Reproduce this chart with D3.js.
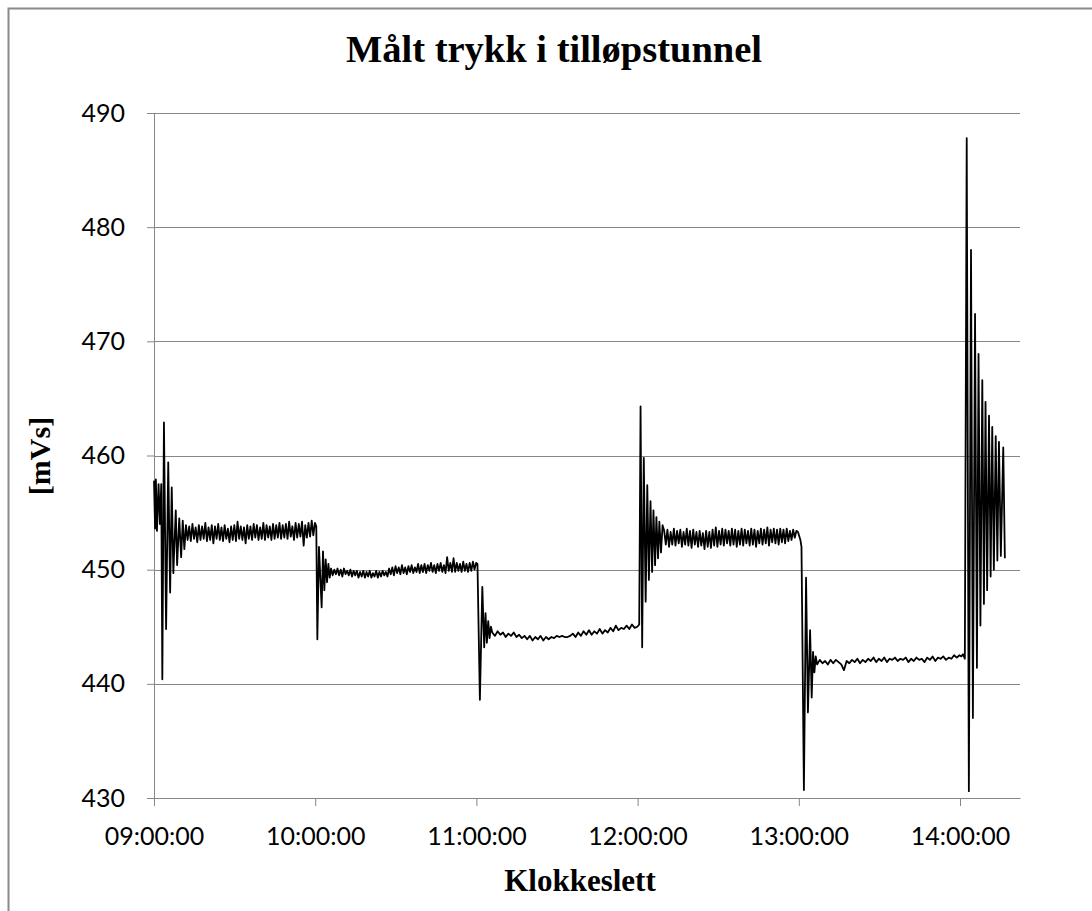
<!DOCTYPE html>
<html>
<head>
<meta charset="utf-8">
<script src="https://cdn.jsdelivr.net/npm/d3@7"></script>
<style>
  body { margin: 0; background: #fff; }
  .tick text { font-family: Lato, "Open Sans", sans-serif; font-size: 25px; fill: #000; }
  .label { font-family: "Liberation Serif", serif; font-weight: bold; fill: #000; }
</style>
</head>
<body>
<div id="chart"></div>
<script>
var xTicks = ["09:00:00", "10:00:00", "11:00:00", "12:00:00", "13:00:00", "14:00:00"];
var yTicks = [430, 440, 450, 460, 470, 480, 490];

// transients after each gate change: minutes after 09:00 and pressure [mVs]
var swingMin = [
  0.0, 0.4, 0.7, 1.1, 1.7, 2.2, 2.7, 3.1, 3.7, 4.5, 5.3, 6.0, 6.6, 7.2, 8.1, 8.6, 9.4, 10.1, 10.7, 11.3,
  60.4, 60.8, 61.4, 62.4, 62.9, 63.4, 63.9, 64.4, 64.9, 65.4,
  120.4, 121.3, 122.2, 122.9, 123.4, 123.9, 124.4, 124.9, 125.4,
  180.6, 181.1, 181.7, 182.3, 183.0, 183.6, 184.2, 184.8, 185.4, 185.9, 186.5, 187.0, 187.6, 188.1, 188.7, 189.3,
  239.7, 240.6, 241.0, 241.9, 242.7, 243.4, 244.2, 244.8, 245.3, 245.8, 246.3,
  300.5, 301.1, 301.8, 302.5, 303.3, 304.1, 304.8, 305.6, 306.3, 306.9, 307.6, 308.3, 308.9, 309.5,
  310.1, 310.8, 311.4, 312.0, 312.6, 313.3, 313.9, 314.5, 315.2, 316.1, 316.7
];
var swingVal = [
  457.8, 453.6, 457.9, 453.4, 457.5, 454.0, 457.5, 440.4, 462.9, 444.8, 459.4, 448.0, 457.2, 449.7, 455.2, 450.4, 454.5, 451.1, 454.3, 451.8,
  453.8, 443.9, 452.0, 446.7, 451.6, 448.2, 450.9, 448.9, 450.5, 449.3,
  450.5, 438.6, 448.5, 443.2, 446.2, 443.6, 445.5, 444.0, 445.0,
  445.2, 464.3, 443.2, 459.8, 447.2, 457.4, 449.1, 456.0, 449.8, 455.2, 450.4, 454.6, 451.0, 454.2, 451.5, 453.9,
  453.3, 452.6, 452.0, 430.7, 449.3, 437.5, 444.7, 438.8, 442.8, 441.0, 442.4,
  442.4, 442.6, 442.2, 487.8, 430.6, 478.0, 437.0, 472.4, 441.4, 468.9, 445.1, 466.6, 447.0, 464.7,
  448.2, 463.5, 449.4, 462.5, 450.0, 461.7, 450.8, 461.2, 451.2, 460.7, 451.0
];

// steady periods between the changes, logged at a fixed rate
var steadyStart = [11.9, 65.9, 125.9, 189.9, 246.8];
var steadyStep = [0.6, 0.6, 1.0, 0.6, 1.0];

var steady1 = [
  453.9, 452.6, 453.8, 452.5, 454.0, 452.7, 453.7, 452.4, 453.9, 452.6,
  453.8, 452.7, 454.1, 452.5, 453.7, 452.6, 453.9, 452.3, 453.8, 452.7,
  454.0, 452.6, 453.7, 452.5, 453.9, 452.7, 453.6, 452.4, 453.8, 452.6,
  453.9, 452.5, 454.2, 452.7, 453.8, 452.6, 453.7, 452.3, 453.9, 452.7,
  453.8, 452.6, 454.0, 452.8, 453.9, 452.6, 453.7, 452.7, 454.1, 452.6,
  453.9, 452.8, 453.8, 452.6, 454.0, 452.7, 453.9, 452.8, 454.1, 452.7,
  453.9, 452.8, 454.0, 452.7, 454.2, 452.9, 453.8, 452.6, 454.1, 452.8,
  454.0, 452.9, 454.2, 452.1, 453.9, 452.8, 454.1, 452.9, 454.3, 453.0,
  454.1
];
var steady2 = [
  450.1, 449.5, 450.0, 449.6, 450.1, 449.5, 450.0, 449.4, 450.1, 449.6, 449.9, 449.5, 450.0, 449.4, 449.9, 449.5,
  449.9, 449.3, 449.8, 449.4, 449.9, 449.3, 449.8, 449.4, 449.9, 449.3, 449.7, 449.4, 449.9, 449.3, 449.8, 449.4, 449.9, 449.5, 449.8, 449.4,
  450.1, 449.6, 450.2, 449.5, 450.3, 449.7, 450.2, 449.6, 450.4, 449.7, 450.2, 449.6, 450.3, 449.8, 450.4, 449.7, 450.2, 449.8, 450.5, 449.7,
  450.4, 449.8, 450.5, 449.7, 450.4, 449.9, 450.6, 449.8, 450.4, 449.7, 450.5, 449.9, 450.6, 449.8, 450.4, 449.7, 451.1, 449.9, 450.6, 449.8,
  451.0, 449.8, 450.6, 449.9, 450.5, 449.8, 450.7, 449.9, 450.5, 449.8, 450.6, 449.9, 450.7, 450.0, 450.6
];
var steady3 = [
  444.5, 444.2, 444.6, 444.3, 444.5, 444.1, 444.4, 444.2, 444.5, 444.1,
  444.3, 444.0, 444.2, 443.9, 444.2, 443.8, 444.1, 443.9, 444.2, 443.8,
  444.1, 443.9, 444.1, 444.0, 444.2, 444.1, 444.2, 444.1, 444.1, 444.2,
  444.4, 444.1, 444.5, 444.2, 444.6, 444.3, 444.7, 444.3, 444.6, 444.4,
  444.8, 444.4, 444.7, 444.5, 444.9, 444.6, 445.1, 444.7, 444.9, 444.8,
  445.1, 444.8, 445.2, 444.9, 445.0
];
var steady4 = [
  453.4, 452.2, 453.5, 452.0, 453.3, 452.2, 453.6, 452.1, 453.4, 452.3,
  453.5, 452.0, 453.3, 452.2, 453.6, 452.1, 453.4, 451.9, 453.5, 452.2,
  453.3, 452.0, 453.4, 452.1, 453.2, 451.8, 453.4, 452.0, 453.3, 451.9,
  453.5, 452.1, 453.7, 452.0, 453.4, 452.2, 453.6, 452.1, 453.5, 452.3,
  453.4, 452.1, 453.6, 452.2, 453.5, 452.0, 453.4, 452.2, 453.6, 452.1,
  453.5, 452.3, 453.4, 452.1, 453.6, 452.2, 453.5, 452.0, 453.4, 452.3,
  453.6, 452.2, 453.5, 452.3, 453.7, 452.1, 453.5, 452.4, 453.6, 452.3,
  453.5, 452.2, 453.6, 452.4, 453.5, 452.3, 453.6, 452.5, 453.4, 452.6,
  453.5, 452.8, 453.4
];
var steady5 = [
  441.7, 442.1, 441.8, 442.0, 441.7, 442.1, 441.8, 442.1, 441.9, 441.7,
  441.2, 442.0, 441.8, 442.1, 441.9, 442.2, 441.8, 442.1, 441.9, 442.2,
  442.0, 442.3, 441.9, 442.2, 442.0, 442.3, 441.9, 442.2, 442.1, 442.3,
  442.0, 442.2, 442.1, 442.3, 441.9, 442.2, 442.0, 442.3, 442.1, 442.2,
  441.9, 442.3, 442.1, 442.4, 442.0, 442.3, 442.2, 442.4, 442.1, 442.3,
  442.2, 442.5, 442.3, 442.5
];
var steadyVals = [steady1, steady2, steady3, steady4, steady5];

var W = 1092, H = 911;
var margin = {top: 113, right: 72, bottom: 113, left: 154}
  , width = W - margin.left - margin.right
  , height = H - margin.top - margin.bottom;

var parseTime = d3.timeParse("%H:%M:%S");
var t0 = parseTime("09:00:00");
function at(m) { return new Date(+t0 + m * 60000); }

// put the readings together in time order
var data = [];
swingMin.forEach(function(m, i) { data.push({t: at(m), v: swingVal[i]}); });
steadyVals.forEach(function(arr, k) {
  arr.forEach(function(v, i) { data.push({t: at(steadyStart[k] + i * steadyStep[k]), v: v}); });
});
data.sort(function(a, b) { return a.t - b.t; });

var xScale = d3.scaleTime()
    .domain([t0, parseTime("14:22:20")])
    .range([0, width]);

var yScale = d3.scaleLinear()
    .domain([430, 490])
    .range([height, 0]);

var svg0 = d3.select("#chart").append("svg")
    .attr("width", W)
    .attr("height", H);

// chart frame
svg0.append("rect")
    .attr("x", 8.5).attr("y", 8.5)
    .attr("width", 1200).attr("height", 1000)
    .attr("fill", "none")
    .attr("stroke", "#8a8a8a")
    .attr("stroke-width", 2);

var svg = svg0.append("g")
    .attr("transform", "translate(" + margin.left + "," + margin.top + ")");

// gridlines
svg.append("g")
    .selectAll("line")
    .data(yTicks)
    .enter().append("line")
    .attr("x1", 0).attr("x2", width)
    .attr("y1", function(d) { return Math.round(yScale(d)) + 0.5; })
    .attr("y2", function(d) { return Math.round(yScale(d)) + 0.5; })
    .attr("stroke", "#868686")
    .attr("stroke-width", 1);

var yAxis = svg.append("g")
    .attr("class", "y axis")
    .call(d3.axisLeft(yScale).tickValues(yTicks).tickSize(7).tickPadding(22));

var xAxis = svg.append("g")
    .attr("class", "x axis")
    .attr("transform", "translate(0," + height + ")")
    .call(d3.axisBottom(xScale)
      .tickValues(xTicks.map(parseTime))
      .tickFormat(d3.timeFormat("%H:%M:%S"))
      .tickSize(8).tickPadding(21)
      .tickSizeOuter(0));

svg.selectAll(".axis path, .axis line").attr("stroke", "#868686");
svg.selectAll(".axis path").attr("stroke-width", 1);

// pressure trace
var line = d3.line()
    .x(function(d) { return xScale(d.t); })
    .y(function(d) { return yScale(d.v); });

svg.append("path")
    .datum(data)
    .attr("fill", "none")
    .attr("stroke", "#000")
    .attr("stroke-width", 1.8)
    .attr("stroke-linejoin", "round")
    .attr("d", line);

// titles
svg0.append("text")
    .attr("class", "label")
    .attr("x", 554).attr("y", 62)
    .attr("text-anchor", "middle")
    .style("font-size", "38.5px")
    .text("Målt trykk i tilløpstunnel");

svg0.append("text")
    .attr("class", "label")
    .attr("x", 580).attr("y", 891)
    .attr("text-anchor", "middle")
    .style("font-size", "31px")
    .text("Klokkeslett");

svg0.append("text")
    .attr("class", "label")
    .attr("transform", "translate(50,456) rotate(-90)")
    .attr("text-anchor", "middle")
    .style("font-size", "30px")
    .text("[mVs]");
</script>
</body>
</html>
